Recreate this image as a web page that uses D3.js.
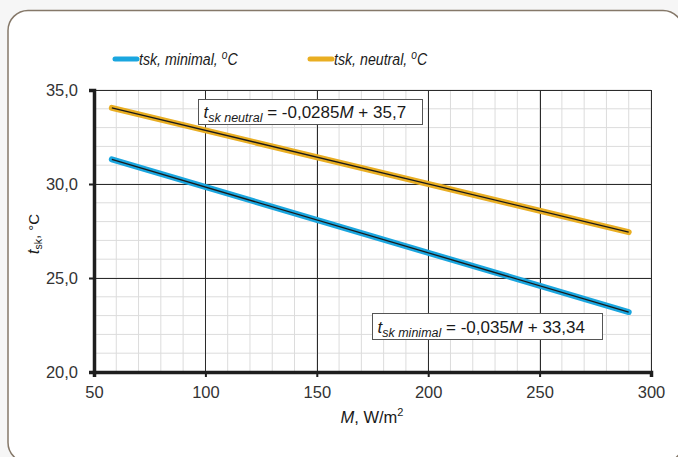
<!DOCTYPE html>
<html>
<head>
<meta charset="utf-8">
<script src="https://cdn.jsdelivr.net/npm/d3@7"></script>
<style>
  body { margin: 0; background: #f6f6f6; }
  svg { display: block; font-family: "Liberation Sans", Arial, sans-serif; }
</style>
</head>
<body>
<svg id="chart"></svg>
<script>
// values
var loadM = [58, 290];
var tskMinimal = [31.31, 23.19];
var tskNeutral = [34.05, 27.44];
var xTicks = [50, 100, 150, 200, 250, 300];
var yTicks = [20, 25, 30, 35];
var seriesNames = ["tsk, minimal, ", "tsk, neutral, "];
var seriesColors = ["#1aa6df", "#e9ae22"];

var width = 678, height = 457;
var margin = { top: 90, bottom: 85, left: 94, right: 27 };

var svg = d3.select('#chart')
            .attr('width', width)
            .attr('height', height);

// rounded frame
svg.append('rect')
   .attr('x', 8).attr('y', 10.5)
   .attr('width', 675).attr('height', 452)
   .attr('rx', 20)
   .style('fill', '#fff')
   .style('stroke', '#857869')
   .style('stroke-width', 1.5);

var xScale = d3.scaleLinear()
               .domain([50, 300])
               .range([margin.left, width - margin.right]);

var yScale = d3.scaleLinear()
               .domain([20, 35])
               .range([height - margin.bottom, margin.top]);

var grid = svg.append('g');

// minor grid
grid.selectAll('.vminor')
    .data(d3.range(50, 301, 10))
    .enter().append('line')
    .attr('x1', d => xScale(d)).attr('x2', d => xScale(d))
    .attr('y1', yScale(20)).attr('y2', yScale(35))
    .style('stroke', '#dcdcdc').style('stroke-width', 1);

grid.selectAll('.hminor')
    .data(d3.range(20, 35.1, 1))
    .enter().append('line')
    .attr('y1', d => yScale(d)).attr('y2', d => yScale(d))
    .attr('x1', xScale(50)).attr('x2', xScale(300))
    .style('stroke', '#dcdcdc').style('stroke-width', 1);

// major grid
grid.selectAll('.vmajor')
    .data(xTicks)
    .enter().append('line')
    .attr('x1', d => Math.round(xScale(d)) + 0.5).attr('x2', d => Math.round(xScale(d)) + 0.5)
    .attr('y1', yScale(20)).attr('y2', yScale(35))
    .style('stroke', '#2b2b2b').style('stroke-width', 1);

grid.selectAll('.hmajor')
    .data(yTicks)
    .enter().append('line')
    .attr('y1', d => Math.round(yScale(d)) + 0.5).attr('y2', d => Math.round(yScale(d)) + 0.5)
    .attr('x1', xScale(50)).attr('x2', xScale(300))
    .style('stroke', '#2b2b2b').style('stroke-width', 1);

// axes
var fmt = d => d3.format('.1f')(d).replace('.', ',');
var xAxis = d3.axisBottom(xScale).tickValues(xTicks).tickSize(5).tickPadding(9);
var yAxis = d3.axisLeft(yScale).tickValues(yTicks).tickSize(5).tickPadding(11).tickFormat(fmt);

var gx = svg.append('g')
   .attr('transform', 'translate(0,' + yScale(20) + ')')
   .call(xAxis);
var gy = svg.append('g')
   .attr('transform', 'translate(' + xScale(50) + ',0)')
   .call(yAxis);

[gx, gy].forEach(function (g) {
  g.select('.domain').style('stroke', '#1e1e1e').style('stroke-width', 3.5);
  g.selectAll('.tick line').style('stroke', '#1e1e1e').style('stroke-width', 2);
  g.selectAll('.tick text').style('font-size', '16.5px').style('fill', '#333').style('font-family', '"Liberation Sans", Arial, sans-serif');
});

// series
var line = d3.line().x(d => xScale(d[0])).y(d => yScale(d[1]));
var seriesData = [tskMinimal, tskNeutral].map(vals => loadM.map((m, i) => [m, vals[i]]));

svg.selectAll('.series')
   .data(seriesData)
   .enter().append('path')
   .attr('d', line)
   .style('fill', 'none')
   .style('stroke', (d, i) => seriesColors[i])
   .style('stroke-width', 6)
   .style('stroke-linecap', 'round');

// trend lines
svg.selectAll('.trend')
   .data(seriesData)
   .enter().append('path')
   .attr('d', line)
   .style('fill', 'none')
   .style('stroke', '#1a1a1a')
   .style('stroke-width', 1.3);

// equation boxes
function eqBox(x, y, w, h, sub, rest) {
  svg.append('rect')
     .attr('x', x).attr('y', y).attr('width', w).attr('height', h)
     .style('fill', '#fff').style('stroke', '#555').style('stroke-width', 1);
  var t = svg.append('text')
     .attr('x', x + 5).attr('y', y + h - 7)
     .style('font-size', '17px').style('fill', '#1a1a1a');
  t.append('tspan').style('font-style', 'italic').text('t');
  t.append('tspan').attr('dy', 4).style('font-size', '12.5px').style('font-style', 'italic').text(sub);
  t.append('tspan').attr('dy', -4).text(' = ' + rest[0]);
  t.append('tspan').style('font-style', 'italic').text('M');
  t.append('tspan').text(rest[1]);
}
eqBox(198.5, 99.5, 224, 25, 'sk neutral', ['-0,0285', ' + 35,7']);
eqBox(372.5, 313.5, 230, 26, 'sk minimal', ['-0,035', ' + 33,34']);

// legend
var legX = [113, 308];
var leg = svg.selectAll('.leg')
   .data(seriesNames)
   .enter().append('g')
   .attr('transform', (d, i) => 'translate(' + legX[i] + ',59)');
leg.append('line')
   .attr('x1', 2).attr('x2', 24)
   .style('stroke', (d, i) => seriesColors[i])
   .style('stroke-width', 5)
   .style('stroke-linecap', 'round');
var lt = leg.append('text')
   .attr('transform', 'translate(26,6) scale(0.86,1)')
   .style('font-size', '16.5px').style('font-style', 'italic').style('fill', '#1a1a1a');
lt.append('tspan').text(d => d);
lt.append('tspan').attr('dy', -6).style('font-size', '12px').text('o');
lt.append('tspan').attr('dy', 6).text('C');

// axis titles
var yl = svg.append('text')
   .attr('transform', 'translate(39,234) rotate(-90)')
   .attr('text-anchor', 'middle')
   .style('font-size', '15px').style('fill', '#1a1a1a');
yl.append('tspan').style('font-style', 'italic').style('font-size', '17px').text('t');
yl.append('tspan').attr('dy', 3).style('font-size', '10.5px').text('sk');
yl.append('tspan').attr('dy', -3).text(', °C');

var xl = svg.append('text')
   .attr('x', 372).attr('y', 423)
   .attr('text-anchor', 'middle')
   .style('font-size', '16.5px').style('fill', '#1a1a1a');
xl.append('tspan').style('font-style', 'italic').text('M');
xl.append('tspan').text(', W/m');
xl.append('tspan').attr('dy', -7).style('font-size', '11px').text('2');
</script>
</body>
</html>
